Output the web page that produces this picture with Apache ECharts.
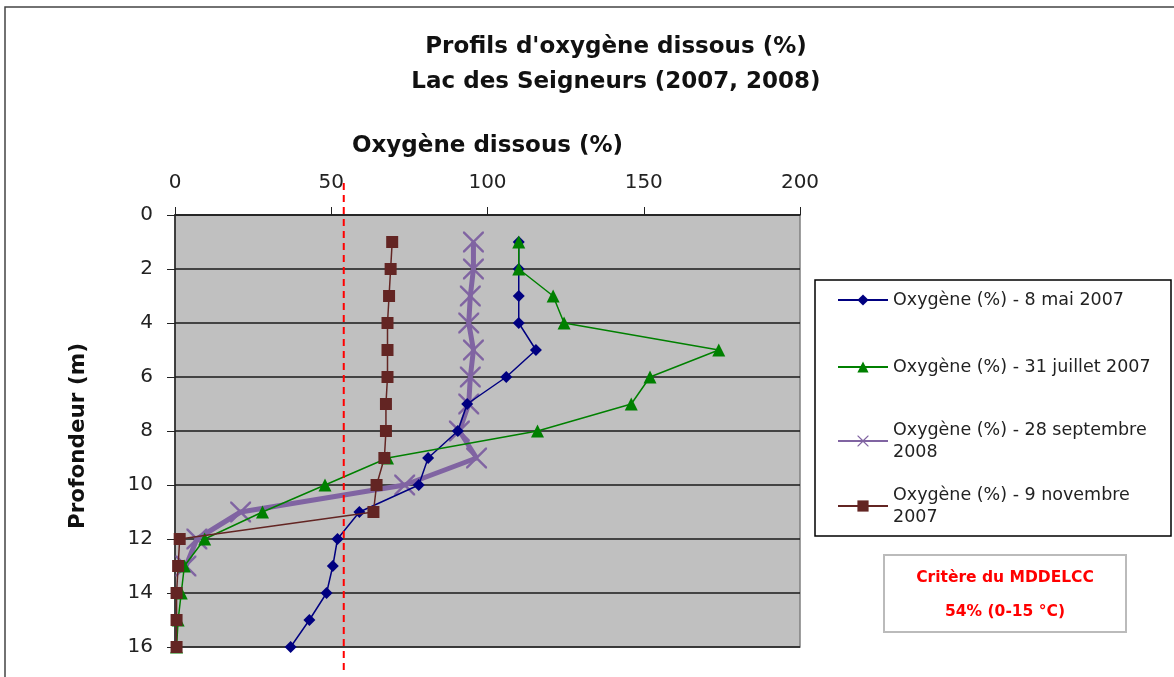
<!DOCTYPE html>
<html>
<head>
<meta charset="utf-8">
<script src="https://cdn.jsdelivr.net/npm/echarts@6/dist/echarts.min.js"></script>
<style>
  html, body { margin: 0; padding: 0; background: #fff; }
  #main { width: 1174px; height: 677px; }
</style>
</head>
<body>
<div id="main"></div>
<script>
// profondeur (m)
let depths = [1, 2, 3, 4, 5, 6, 7, 8, 9, 10, 11, 12, 13, 14, 15, 16]
let mai2007 = [110, 110, 110, 110, 115.5, 106, 93.5, 90.5, 81, 78, 59, 52, 50.5, 48.5, 43, 37]
let juillet2007 = [110, 110, 121, 124.5, 174, 152, 146, 116, 68, 48, 28, 9.5, 3, 2, 1, 0.5]
let sept2008 = [95.5, 95.5, 94.5, 94, 95.5, 94.5, 94, 91, 96.5, 73.5, 21, 7, 3.5]
let nov2007 = [69.5, 69, 68.5, 68, 68, 68, 67.5, 67.5, 67, 64.5, 63.5, 1.5, 1, 0.5, 0.5, 0.5]
let seriesNames = ["Oxygène (%) - 8 mai 2007", "Oxygène (%) - 31 juillet 2007", "Oxygène (%) - 28 septembre 2008", "Oxygène (%) - 9 novembre 2007"]
let xTicks = [0, 50, 100, 150, 200]
let critere = 54

const font = "DejaVu Sans"
const xSymbol = "path://M0,0L1.6,0L10,8.4L18.4,0L20,0L20,1.6L11.6,10L20,18.4L20,20L18.4,20L10,11.6L1.6,20L0,20L0,18.4L8.4,10L0,1.6Z"

function pairs(vals) {
    return vals.map((v, i) => [v, depths[i]])
}

var myChart = echarts.init(document.getElementById('main'))

let styles = [
    { color: "#000080", width: 1.5, symbol: "diamond", size: 12 },
    { color: "#008000", width: 1.5, symbol: "triangle", size: 13 },
    { color: "#8064A2", width: 5, symbol: xSymbol, size: 21 },
    { color: "#632523", width: 1.5, symbol: "rect", size: 12 }
]
let values = [mai2007, juillet2007, sept2008, nov2007]

let series = values.map((vals, i) => ({
    name: seriesNames[i],
    type: "line",
    data: pairs(vals),
    symbol: styles[i].symbol,
    symbolSize: styles[i].size,
    lineStyle: { color: styles[i].color, width: styles[i].width },
    itemStyle: { color: styles[i].color },
    z: i == 2 ? 1 : 2 + i,
    animation: false
}))

let legendTops = [284, 351, 425, 490]
let legends = seriesNames.map((n, i) => ({
    data: [{ name: n, textStyle: i >= 2 ? { padding: [22, 0, 0, 0] } : {} }],
    left: 832,
    top: legendTops[i] - (i >= 2 ? 22 : 0),
    itemWidth: 50,
    itemHeight: 14,
    itemGap: 7,
    formatter: name => name.replace("septembre ", "septembre\n").replace("novembre ", "novembre\n"),
    textStyle: { fontFamily: font, fontSize: 17.5, color: "#222", lineHeight: 22 }
}))

var option = {
    backgroundColor: "#fff",
    title: {
        text: "Profils d'oxygène dissous (%)\nLac des Seigneurs (2007, 2008)",
        left: 611,
        textAlign: "center",
        top: 25,
        textStyle: { fontFamily: font, fontSize: 23, fontWeight: "bold", color: "#111", lineHeight: 35 }
    },
    legend: legends,
    grid: {
        left: 175, top: 215, width: 625, height: 432,
        show: true, backgroundColor: "#C0C0C0", borderColor: "#808080", borderWidth: 1.5
    },
    xAxis: {
        type: "value", position: "top", min: 0, max: 200, interval: 50,
        name: "Oxygène dissous (%)", nameLocation: "middle", nameGap: 57,
        nameTextStyle: { fontFamily: font, fontSize: 23, fontWeight: "bold", color: "#111" },
        axisLine: { show: true, lineStyle: { color: "#222", width: 1.5 } },
        axisTick: { show: true, length: 8, lineStyle: { color: "#222" } },
        axisLabel: { fontFamily: font, fontSize: 20, color: "#222", margin: 22, formatter: v => xTicks.includes(v) ? v : "" },
        splitLine: { show: false }
    },
    yAxis: {
        type: "value", inverse: true, min: 0, max: 16, interval: 2,
        name: "Profondeur (m)", nameLocation: "middle", nameGap: 86, nameRotate: 90,
        nameTextStyle: { fontFamily: font, fontSize: 21.5, fontWeight: "bold", color: "#111", padding: [0, 10, 0, 0] },
        axisLine: { show: true, lineStyle: { color: "#222", width: 1.5 } },
        axisTick: { show: true, length: 8, lineStyle: { color: "#222" } },
        axisLabel: { fontFamily: font, fontSize: 20, color: "#222", margin: 22 },
        splitLine: { show: true, lineStyle: { color: "#1a1a1a", width: 1.5 } }
    },
    series: series
}

myChart.setOption(option)

// ligne du critère et encadrés
let px = myChart.convertToPixel({ xAxisIndex: 0 }, critere)
myChart.setOption({
    graphic: [
        { type: "rect", shape: { x: 5, y: 7, width: 1200, height: 700 }, style: { fill: null, stroke: "#444", lineWidth: 1.5 }, silent: true },
        { type: "line", shape: { x1: px, y1: 183, x2: px, y2: 672 }, style: { stroke: "#ff0000", lineWidth: 2, lineDash: [7, 5] }, z: 10 },
        { type: "rect", shape: { x: 815, y: 280, width: 356, height: 256 }, style: { fill: null, stroke: "#000", lineWidth: 1.5 } },
        { type: "rect", shape: { x: 884, y: 555, width: 242, height: 77 }, style: { fill: "#fff", stroke: "#bbb", lineWidth: 2 } },
        { type: "text", x: 1005, y: 578, style: { text: "Critère du MDDELCC", fill: "#ff0000", font: "bold 15.5px 'DejaVu Sans'", align: "center", verticalAlign: "middle" } },
        { type: "text", x: 1005, y: 612, style: { text: "54% (0-15 °C)", fill: "#ff0000", font: "bold 15.5px 'DejaVu Sans'", align: "center", verticalAlign: "middle" } }
    ]
})
</script>
</body>
</html>
